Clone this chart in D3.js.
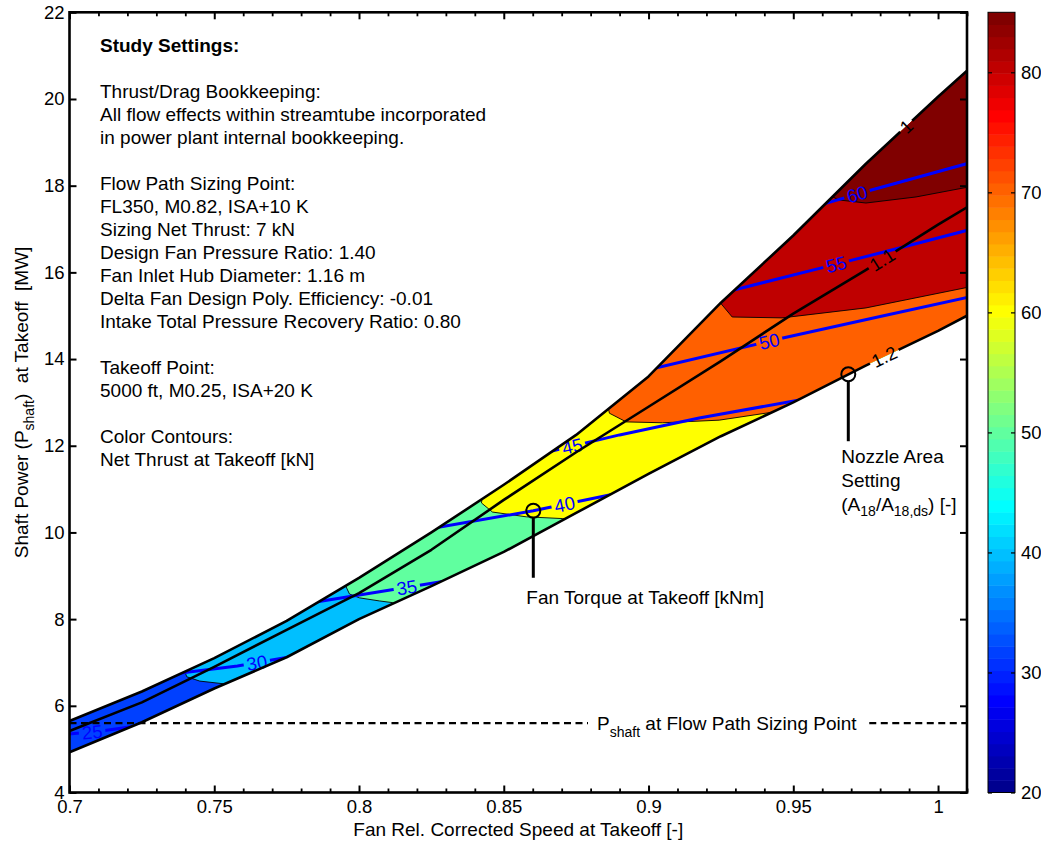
<!DOCTYPE html>
<html lang="en">
<head>
<meta charset="UTF-8">
<title>Shaft Power vs Fan Speed at Takeoff</title>
<style>
  body { margin: 0; background: #fff; }
  svg text { font-family: "Liberation Sans", Arial, sans-serif; }
</style>
</head>
<body>
<script src="https://cdn.jsdelivr.net/npm/d3@7"></script>
<script>
// ---- data ----
// fan rel. corrected speed grid and shaft power [MW] on the three nozzle area lines
var speeds   = [0.7, 0.725, 0.75, 0.775, 0.8, 0.825, 0.85, 0.875, 0.9, 0.925, 0.95, 0.975, 1.0, 1.01];
var nozzle10 = [5.65, 6.33, 7.10, 7.96, 8.95, 10.0, 11.1, 12.25, 13.6, 15.3, 16.85, 18.5, 20.05, 20.65];
var nozzle11 = [5.42, 6.08, 6.90, 7.75, 8.60, 9.60, 10.75, 11.85, 12.9, 13.95, 15.05, 16.05, 17.1, 17.5];
var nozzle12 = [4.93, 5.62, 6.40, 7.12, 8.00, 8.76, 9.55, 10.45, 11.35, 12.22, 13.0, 13.85, 14.65, 15.0];
var nozzleNames = ["1", "1.1", "1.2"];
var nozzleLabelAt = [0.989, 0.9807, 0.9814];

// net thrust bands [kN] and the edges between them (speed, power)
var thrustLevels = [32, 40, 50, 60, 70, 80, 90];
var thrustEdges = [
  [[0.7395, 6.85], [0.7405, 6.67], [0.745, 6.57], [0.7543, 6.50], [0.757, 6.45]],
  [[0.7948, 8.85], [0.7967, 8.58], [0.8002, 8.49], [0.807, 8.42], [0.8116, 8.38], [0.815, 8.33]],
  [[0.8428, 10.95], [0.8423, 10.68], [0.8461, 10.47], [0.8578, 10.36], [0.8702, 10.32], [0.874, 10.30]],
  [[0.8853, 13.1], [0.8865, 12.75], [0.8923, 12.55], [0.9048, 12.53], [0.9244, 12.59], [0.9434, 12.78], [0.947, 12.80]],
  [[0.9235, 15.4], [0.9289, 14.97], [0.9461, 14.95], [0.9751, 15.18], [1.0106, 15.66]],
  [[0.9618, 17.8], [0.9658, 17.67], [0.9751, 17.60], [0.9924, 17.74], [1.0106, 17.97]]
];

// fan torque contours [kNm]
var torqueLevels = [25, 30, 35, 40, 45, 50, 55, 60];
var torqueLines = [
  [[0.698, 5.34], [0.711, 5.42], [0.725, 5.55]],
  [[0.735, 6.73], [0.758, 6.92], [0.779, 7.16]],
  [[0.783, 8.37], [0.806, 8.62], [0.831, 8.89]],
  [[0.825, 10.09], [0.8602, 10.50], [0.889, 10.90]],
  [[0.8648, 11.85], [0.89, 12.25], [0.9175, 12.64], [0.955, 13.09]],
  [[0.8966, 13.70], [0.946, 14.48], [0.98, 14.98], [1.0106, 15.43]],
  [[0.925, 15.52], [0.9625, 16.15], [0.986, 16.55], [1.0106, 16.98]],
  [[0.96, 17.57], [0.977, 17.90], [1.0106, 18.52]]
];
var torqueLabelAt = [0.7078, 0.7647, 0.8165, 0.871, 0.8736, 0.9417, 0.9648, 0.972];

var sizingPower = 5.6;
var markerSpeed = [0.8602, 0.969];
var markerPower = [10.50, 13.65];

var xTicks = [0.7, 0.75, 0.8, 0.85, 0.9, 0.95, 1];
var yTicks = [4, 6, 8, 10, 12, 14, 16, 18, 20, 22];
var cbTicks = [20, 30, 40, 50, 60, 70, 80];

var settings = [
  "Study Settings:", "",
  "Thrust/Drag Bookkeeping:",
  "All flow effects within streamtube incorporated",
  "in power plant internal bookkeeping.", "",
  "Flow Path Sizing Point:",
  "FL350, M0.82, ISA+10 K",
  "Sizing Net Thrust: 7 kN",
  "Design Fan Pressure Ratio: 1.40",
  "Fan Inlet Hub Diameter: 1.16 m",
  "Delta Fan Design Poly. Efficiency: -0.01",
  "Intake Total Pressure Recovery Ratio: 0.80", "",
  "Takeoff Point:",
  "5000 ft, M0.25, ISA+20 K", "",
  "Color Contours:",
  "Net Thrust at Takeoff [kN]"
];

// ---- setup ----
var W = 1041, H = 844;
var svg = d3.select("body").append("svg").attr("width", W).attr("height", H);
var defs = svg.append("defs");

var x = d3.scaleLinear().domain([0.7, 1.01]).range([69.5, 967]);
var y = d3.scaleLinear().domain([4, 22]).range([792.5, 12.3]);
var cb = d3.scaleLinear().domain([20, 85]).range([792.5, 12.3]);
var line = d3.line().x(function(d) { return x(d[0]); }).y(function(d) { return y(d[1]); });

// matlab jet(64)
function jetU(j) { return j < 1 || j > 47 ? 0 : j <= 16 ? j / 16 : j <= 31 ? 1 : (48 - j) / 16; }
var jetColors = d3.range(1, 65).map(function(k) {
  return d3.rgb(255 * jetU(k - 24), 255 * jetU(k - 8), 255 * jetU(k + 8)).formatHex();
});
var color = d3.scaleQuantize().domain([20, 85]).range(jetColors);

var upper = speeds.map(function(s, i) { return [s, nozzle10[i]]; });
var middle = speeds.map(function(s, i) { return [s, nozzle11[i]]; });
var lower = speeds.map(function(s, i) { return [s, nozzle12[i]]; });
var region = upper.concat(lower.slice().reverse());

defs.append("clipPath").attr("id", "regionClip").append("path").attr("d", line(region) + "Z");
defs.append("clipPath").attr("id", "plotClip").append("rect")
    .attr("x", x(0.7)).attr("y", y(22)).attr("width", x(1.01) - x(0.7)).attr("height", y(4) - y(22));

function makeMask(id) {
  var m = defs.append("mask").attr("id", id).attr("maskUnits", "userSpaceOnUse")
      .attr("x", 0).attr("y", 0).attr("width", W).attr("height", H);
  m.append("rect").attr("width", W).attr("height", H).attr("fill", "white");
  return m;
}
var blueMask = makeMask("blueMask");
var blackMask = makeMask("blackMask");

// ---- filled thrust bands ----
var bands = svg.append("g").attr("clip-path", "url(#regionClip)");
bands.append("path").attr("d", line(region) + "Z").attr("fill", color(thrustLevels[0]));
thrustEdges.forEach(function(e, i) {
  var last = e[e.length - 1];
  var poly = [[e[0][0], 30]].concat(e).concat([[1.1, last[1]], [1.1, 30]]);
  bands.append("path").attr("d", line(poly) + "Z").attr("fill", color(thrustLevels[i + 1]));
});
bands.selectAll(".edge").data(thrustEdges).enter().append("path")
    .attr("class", "edge").attr("d", line).attr("fill", "none")
    .attr("stroke", "#000").attr("stroke-width", 0.9);

// ---- label helper: text along a polyline, punching a gap into the line mask ----
function lineLabel(g, mask, pts, at, txt, fill, size) {
  var p = pts.map(function(d) { return [x(d[0]), y(d[1])]; });
  var px = x(at), k = 0;
  while (k < p.length - 2 && p[k + 1][0] < px) k++;
  var a = p[k], b = p[k + 1];
  var t = (px - a[0]) / (b[0] - a[0]);
  var py = a[1] + t * (b[1] - a[1]);
  var ang = Math.atan2(b[1] - a[1], b[0] - a[0]) * 180 / Math.PI;
  var tr = "translate(" + px + "," + py + ") rotate(" + ang + ")";
  var el = g.append("text").attr("transform", tr).attr("text-anchor", "middle")
      .attr("dy", "0.36em").attr("fill", fill).style("font-size", size + "px").text(txt);
  var w = el.node().getComputedTextLength();
  mask.append("rect").attr("transform", tr).attr("x", -w / 2 - 3).attr("y", -8)
      .attr("width", w + 6).attr("height", 16).attr("fill", "black");
}

// ---- torque contours ----
var torqueG = svg.append("g").attr("clip-path", "url(#regionClip)");
var torqueLabels = svg.append("g");
torqueG.append("g").attr("mask", "url(#blueMask)")
  .selectAll("path").data(torqueLines).enter().append("path")
    .attr("d", line).attr("fill", "none").attr("stroke", "#0000ff").attr("stroke-width", 3);
torqueLines.forEach(function(pts, i) {
  lineLabel(torqueLabels, blueMask, pts, torqueLabelAt[i], torqueLevels[i], "#0000ff", 18.5);
});

// ---- nozzle area setting lines ----
var nozzleG = svg.append("g").attr("clip-path", "url(#plotClip)");
var nozzleLabels = svg.append("g");
var nozzles = [upper, middle, lower];
nozzleG.append("g").attr("mask", "url(#blackMask)")
  .selectAll("path").data(nozzles).enter().append("path")
    .attr("d", line).attr("fill", "none").attr("stroke", "#000")
    .attr("stroke-width", 2.6).attr("stroke-linejoin", "round");
nozzles.forEach(function(pts, i) {
  lineLabel(nozzleLabels, blackMask, pts, nozzleLabelAt[i], nozzleNames[i], "#000", 18.5);
});

// ---- flow path sizing point shaft power ----
var sizing = svg.append("g");
var sy = y(sizingPower);
var st = sizing.append("text").attr("x", 597).attr("y", sy + 7).style("font-size", "19px")
    .style("white-space", "pre");
st.append("tspan").text("P");
st.append("tspan").attr("dy", 7).style("font-size", "14px").text("shaft");
st.append("tspan").attr("dy", -7).text(" at Flow Path Sizing Point");
var bb = st.node().getBBox();
[[x(0.7), bb.x - 9], [bb.x + bb.width + 12, x(1.01)]].forEach(function(seg) {
  sizing.append("line").attr("x1", seg[0]).attr("x2", seg[1]).attr("y1", sy).attr("y2", sy)
      .attr("stroke", "#000").attr("stroke-width", 2.4).attr("stroke-dasharray", "7,4.5");
});

// ---- markers with leaders ----
var marks = svg.append("g");
markerSpeed.forEach(function(s, i) {
  var cx = x(s), cy = y(markerPower[i]);
  marks.append("circle").attr("cx", cx).attr("cy", cy).attr("r", 7)
      .attr("fill", "none").attr("stroke", "#000").attr("stroke-width", 2);
  marks.append("line").attr("x1", cx).attr("x2", cx).attr("y1", cy + 7).attr("y2", cy + 67)
      .attr("stroke", "#000").attr("stroke-width", 3);
});
var c1x = x(markerSpeed[0]), c1y = y(markerPower[0]);
marks.append("text").attr("x", c1x - 7).attr("y", c1y + 93).style("font-size", "19px")
    .text("Fan Torque at Takeoff [kNm]");
var c2x = x(markerSpeed[1]), c2y = y(markerPower[1]);
marks.append("text").attr("x", c2x - 7).attr("y", c2y + 89).style("font-size", "19px").text("Nozzle Area");
marks.append("text").attr("x", c2x - 7).attr("y", c2y + 113).style("font-size", "19px").text("Setting");
var nt = marks.append("text").attr("x", c2x - 7).attr("y", c2y + 137).style("font-size", "19px");
nt.append("tspan").text("(A");
nt.append("tspan").attr("dy", 5).style("font-size", "14px").text("18");
nt.append("tspan").attr("dy", -5).text("/A");
nt.append("tspan").attr("dy", 5).style("font-size", "14px").text("18,ds");
nt.append("tspan").attr("dy", -5).text(") [-]");

// ---- study settings text ----
svg.append("g").selectAll("text").data(settings).enter().append("text")
    .attr("x", 100).attr("y", function(d, i) { return 52 + i * 23; })
    .style("font-size", "19px")
    .style("font-weight", function(d, i) { return i === 0 ? "bold" : "normal"; })
    .text(function(d) { return d; });

// ---- axes ----
function styleAxis(g, w) {
  g.select(".domain").remove();
  g.attr("font-family", "Liberation Sans, Arial, sans-serif").attr("font-size", 18.5);
  g.selectAll(".tick line").attr("stroke", "#000").attr("stroke-width", w);
  g.selectAll(".tick text").attr("fill", "#000");
}
var xMinor = d3.range(70, 102).filter(function(v) { return v % 5 !== 0; }).map(function(v) { return v / 100; });

svg.append("g").attr("transform", "translate(0," + y(4) + ")")
    .call(d3.axisBottom(x).tickValues(xTicks).tickFormat(d3.format("~g")).tickSize(-7).tickPadding(7.5))
    .call(styleAxis, 2);
svg.append("g").attr("transform", "translate(0," + y(4) + ")")
    .call(d3.axisBottom(x).tickValues(xMinor).tickFormat("").tickSize(-4)).call(styleAxis, 1.8);
svg.append("g").attr("transform", "translate(0," + y(22) + ")")
    .call(d3.axisTop(x).tickValues(xTicks).tickFormat("").tickSize(-7)).call(styleAxis, 2);
svg.append("g").attr("transform", "translate(0," + y(22) + ")")
    .call(d3.axisTop(x).tickValues(xMinor).tickFormat("").tickSize(-4)).call(styleAxis, 1.8);
svg.append("g").attr("transform", "translate(" + x(0.7) + ",0)")
    .call(d3.axisLeft(y).tickValues(yTicks).tickSize(-7).tickPadding(5)).call(styleAxis, 2);
svg.append("g").attr("transform", "translate(" + x(1.01) + ",0)")
    .call(d3.axisRight(y).tickValues(yTicks).tickFormat("").tickSize(-7)).call(styleAxis, 2);

svg.append("rect").attr("x", x(0.7)).attr("y", y(22))
    .attr("width", x(1.01) - x(0.7)).attr("height", y(4) - y(22))
    .attr("fill", "none").attr("stroke", "#000").attr("stroke-width", 2.6);

svg.append("text").attr("x", (x(0.7) + x(1.01)) / 2).attr("y", 836)
    .attr("text-anchor", "middle").style("font-size", "19px")
    .text("Fan Rel. Corrected Speed at Takeoff [-]");

var yl = svg.append("text").attr("transform", "translate(28," + (y(4) + y(22)) / 2 + ") rotate(-90)")
    .attr("text-anchor", "middle").style("font-size", "19px").style("white-space", "pre");
yl.append("tspan").text("Shaft Power (P");
yl.append("tspan").attr("dy", 6).style("font-size", "14px").text("shaft");
yl.append("tspan").attr("dy", -6).text(")  at Takeoff  [MW]");

// ---- colorbar ----
var cbX0 = 988, cbX1 = 1015;
var cbG = svg.append("g");
cbG.selectAll("rect").data(jetColors).enter().append("rect")
    .attr("x", cbX0).attr("width", cbX1 - cbX0)
    .attr("y", function(d, k) { return cb(20 + (k + 1) * 65 / 64); })
    .attr("height", function(d, k) { return cb(20 + k * 65 / 64) - cb(20 + (k + 1) * 65 / 64) + 0.5; })
    .attr("fill", function(d) { return d; });
svg.append("rect").attr("x", cbX0).attr("y", cb(85)).attr("width", cbX1 - cbX0)
    .attr("height", cb(20) - cb(85)).attr("fill", "none").attr("stroke", "#000").attr("stroke-width", 1);
svg.append("g").attr("transform", "translate(" + cbX1 + ",0)")
    .call(d3.axisRight(cb).tickValues(cbTicks).tickSize(-4).tickPadding(6)).call(styleAxis, 1.2);
svg.append("g").attr("transform", "translate(" + cbX0 + ",0)")
    .call(d3.axisLeft(cb).tickValues(cbTicks).tickFormat("").tickSize(-4)).call(styleAxis, 1.2);
</script>
</body>
</html>
